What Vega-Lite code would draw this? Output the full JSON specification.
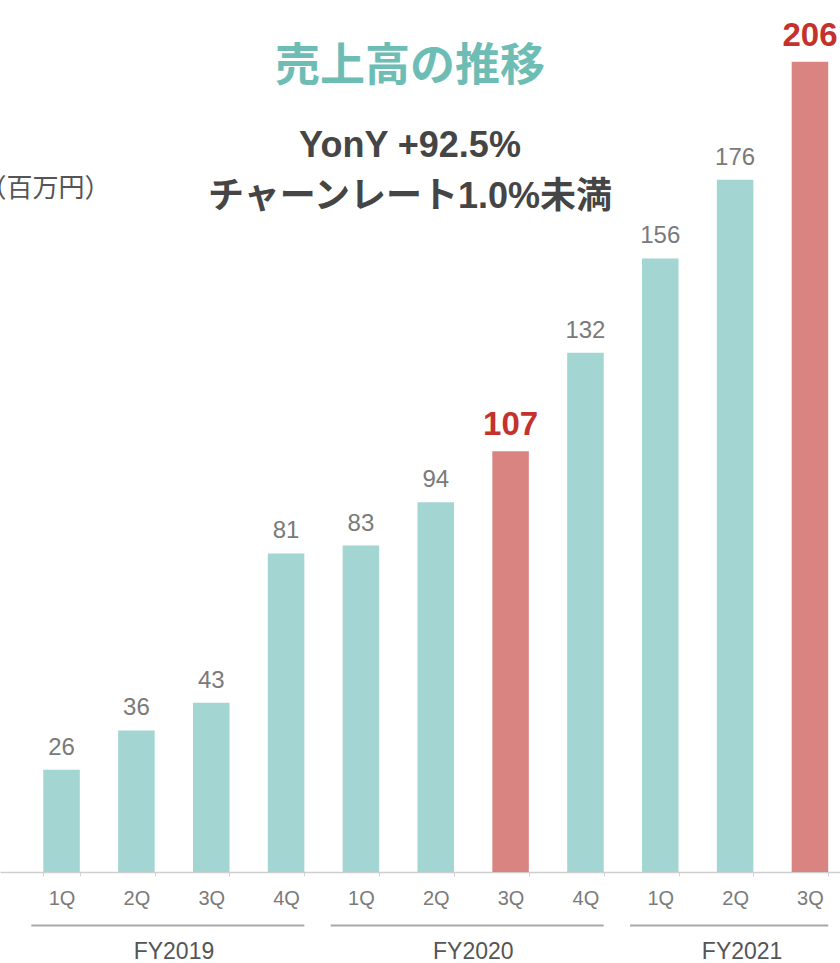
{
  "$schema": "https://vega.github.io/schema/vega-lite/v6.json",
  "autosize": "none",
  "padding": {"left": 0, "top": 0, "right": 0, "bottom": 91},
  "width": 840,
  "height": 872,
  "background": "white",
  "config": {"view": {"stroke": null}, "font": "Liberation Sans, Noto Sans CJK JP"},
  "title": {
    "text": "売上高の推移",
    "subtitle": ["YonY +92.5%", "チャーンレート1.0%未満"],
    "anchor": "middle",
    "frame": "group",
    "dx": -10,
    "offset": -215,
    "font": "Noto Sans CJK JP",
    "fontSize": 45,
    "fontWeight": "bold",
    "color": "#6dbdb5",
    "subtitleFont": "Liberation Sans, Noto Sans CJK JP",
    "subtitleFontSize": 36,
    "subtitleFontWeight": "bold",
    "subtitleColor": "#454545",
    "subtitleLineHeight": 51,
    "subtitlePadding": 39
  },
  "datasets": {
    "quarters": [
      {"period": "FY2019 1Q", "fy": "FY2019", "q": "1Q", "sales": 26, "highlight": "no"},
      {"period": "FY2019 2Q", "fy": "FY2019", "q": "2Q", "sales": 36, "highlight": "no"},
      {"period": "FY2019 3Q", "fy": "FY2019", "q": "3Q", "sales": 43, "highlight": "no"},
      {"period": "FY2019 4Q", "fy": "FY2019", "q": "4Q", "sales": 81, "highlight": "no"},
      {"period": "FY2020 1Q", "fy": "FY2020", "q": "1Q", "sales": 83, "highlight": "no"},
      {"period": "FY2020 2Q", "fy": "FY2020", "q": "2Q", "sales": 94, "highlight": "no"},
      {"period": "FY2020 3Q", "fy": "FY2020", "q": "3Q", "sales": 107, "highlight": "yes"},
      {"period": "FY2020 4Q", "fy": "FY2020", "q": "4Q", "sales": 132, "highlight": "no"},
      {"period": "FY2021 1Q", "fy": "FY2021", "q": "1Q", "sales": 156, "highlight": "no"},
      {"period": "FY2021 2Q", "fy": "FY2021", "q": "2Q", "sales": 176, "highlight": "no"},
      {"period": "FY2021 3Q", "fy": "FY2021", "q": "3Q", "sales": 206, "highlight": "yes"}
    ],
    "groups": [
      {"fy": "FY2019", "start": "FY2019 1Q", "end": "FY2019 4Q", "anchor": "FY2019 3Q"},
      {"fy": "FY2020", "start": "FY2020 1Q", "end": "FY2020 4Q", "anchor": "FY2020 3Q"},
      {"fy": "FY2021", "start": "FY2021 1Q", "end": "FY2021 3Q", "anchor": "FY2021 2Q"}
    ]
  },
  "layer": [
    {
      "data": {"name": "quarters"},
      "mark": {"type": "bar"},
      "encoding": {
        "x": {
          "field": "period", "type": "nominal",
          "scale": {"paddingInner": 0.512, "paddingOuter": 0.368, "align": 0.786},
          "axis": {
            "title": null,
            "labelExpr": "split(datum.label, ' ')[1]",
            "labelAngle": 0,
            "labelFont": "Liberation Sans",
            "labelFontSize": 20,
            "labelColor": "#7a7a7a",
            "labelPadding": 12,
            "tickSize": 4,
            "tickColor": "#d5d5d5",
            "tickBand": "extent",
            "domainColor": "#cfcfcf",
            "domainWidth": 1.5
          }
        },
        "y": {
          "field": "sales", "type": "quantitative",
          "scale": {"domain": [0, 221.7], "nice": false},
          "axis": {
            "title": "（百万円）",
            "titleAngle": 0,
            "titleAlign": "left",
            "titleBaseline": "middle",
            "titleX": -20,
            "titleY": 188,
            "titleFont": "Noto Sans CJK JP",
            "titleFontSize": 26,
            "titleFontWeight": "normal",
            "titleColor": "#555555",
            "labels": false,
            "ticks": false,
            "domain": false,
            "grid": false
          }
        },
        "color": {
          "field": "highlight", "type": "nominal",
          "scale": {"domain": ["no", "yes"], "range": ["#a3d5d2", "#da8482"]},
          "legend": null
        }
      }
    },
    {
      "data": {"name": "quarters"},
      "transform": [{"filter": "datum.highlight == 'no'"}],
      "mark": {"type": "text", "baseline": "alphabetic", "dy": -15, "fontSize": 24, "color": "#7a7a7a", "font": "Liberation Sans"},
      "encoding": {
        "x": {"field": "period", "type": "nominal"},
        "y": {"field": "sales", "type": "quantitative"},
        "text": {"field": "sales"}
      }
    },
    {
      "data": {"name": "quarters"},
      "transform": [{"filter": "datum.highlight == 'yes'"}],
      "mark": {"type": "text", "baseline": "alphabetic", "dy": -16, "fontSize": 33, "fontWeight": "bold", "color": "#c5312c", "font": "Liberation Sans"},
      "encoding": {
        "x": {"field": "period", "type": "nominal"},
        "y": {"field": "sales", "type": "quantitative"},
        "text": {"field": "sales"}
      }
    },
    {
      "data": {"name": "groups"},
      "mark": {"type": "rule", "color": "#a8a8a8", "strokeWidth": 1.8, "xOffset": -12},
      "encoding": {
        "x": {"field": "start", "type": "nominal", "bandPosition": 0},
        "x2": {"field": "end", "bandPosition": 1},
        "y": {"datum": -13.6}
      }
    },
    {
      "data": {"name": "groups"},
      "transform": [{"filter": "datum.fy != 'FY2021'"}],
      "mark": {"type": "text", "baseline": "middle", "fontSize": 23, "color": "#555555", "font": "Liberation Sans", "xOffset": -19},
      "encoding": {
        "x": {"field": "anchor", "type": "nominal", "bandPosition": 0},
        "y": {"datum": -20.4},
        "text": {"field": "fy"}
      }
    },
    {
      "data": {"name": "groups"},
      "transform": [{"filter": "datum.fy == 'FY2021'"}],
      "mark": {"type": "text", "baseline": "middle", "fontSize": 23, "color": "#555555", "font": "Liberation Sans", "xOffset": 7},
      "encoding": {
        "x": {"field": "anchor", "type": "nominal", "bandPosition": 0.5},
        "y": {"datum": -20.4},
        "text": {"field": "fy"}
      }
    }
  ]
}
